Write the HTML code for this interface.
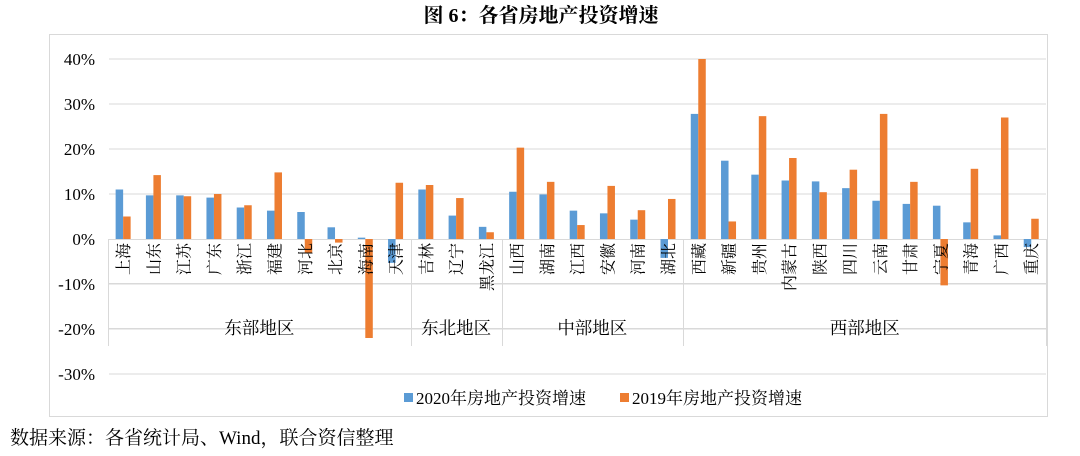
<!DOCTYPE html>
<html><head><meta charset="utf-8"><style>
body{margin:0;background:#fff;width:1080px;height:451px;overflow:hidden;font-family:"Liberation Serif","Noto Serif CJK SC",serif}
</style></head><body>
<svg id="s" width="1080" height="451" xmlns="http://www.w3.org/2000/svg" font-family="Liberation Serif, Noto Serif CJK SC, serif">
<text x="541" y="22" text-anchor="middle" font-size="20" font-weight="bold" font-family="Liberation Serif, Noto Serif CJK SC, serif">图 6：各省房地产投资增速</text>
<rect x="49.5" y="34.5" width="998" height="382" fill="none" stroke="#d9d9d9"/>
<text x="10" y="444" font-size="19">数据来源：各省统计局、Wind，联合资信整理</text>
</svg>
<script>
var s=document.getElementById('s'),NS='http://www.w3.org/2000/svg';
function el(t,a,txt){var e=document.createElementNS(NS,t);for(var k in a)e.setAttribute(k,a[k]);if(txt)e.textContent=txt;s.appendChild(e);return e;}
function Y(v){return 239-v*4.5;}
for(var v=40;v>=-30;v-=10){
 if(v!=0)el('line',{x1:109,x2:1046,y1:Y(v),y2:Y(v),stroke:'#d9d9d9'});
 el('text',{x:95,y:Y(v)+6,'text-anchor':'end','font-size':17},v+'%');
}
var d=[['上海',11,5],['山东',9.7,14.2],['江苏',9.7,9.5],['广东',9.2,10],['浙江',7,7.5],['福建',6.3,14.8],['河北',6,-3],['北京',2.6,-0.8],['海南',0.3,-22],['天津',-5.3,12.5],
['吉林',11,12],['辽宁',5.2,9.1],['黑龙江',2.7,1.5],
['山西',10.5,20.3],['湖南',9.9,12.7],['江西',6.3,3.1],['安徽',5.7,11.8],['河南',4.3,6.4],['湖北',-4.2,8.9],
['西藏',27.8,40],['新疆',17.4,3.9],['贵州',14.3,27.3],['内蒙古',13,18],['陕西',12.8,10.4],['四川',11.3,15.4],['云南',8.5,27.8],['甘肃',7.8,12.7],['宁夏',7.4,-10.3],['青海',3.7,15.6],['广西',0.8,27],['重庆',-1.8,4.5]];
var x0=108,w=30.27;
el('line',{x1:x0,x2:1046,y1:283.5,y2:283.5,stroke:'#d9d9d9'});
el('line',{x1:x0,x2:1046,y1:328.5,y2:328.5,stroke:'#d9d9d9'});
[0,10,13,19,31].forEach(function(i){var x=Math.round(x0+i*w)+0.5;el('line',{x1:x,x2:x,y1:239,y2:346,stroke:'#d9d9d9'});});
el('line',{x1:x0,x2:1046,y1:239.5,y2:239.5,stroke:'#d9d9d9'});
d.forEach(function(r,i){
 var c=x0+i*w+w/2;
 var a=r[1],b=r[2];
 el('rect',{x:c-7.5,y:Math.min(Y(a),239),width:7.5,height:Math.abs(a*4.5),fill:'#5b9bd5'});
 el('rect',{x:c,y:Math.min(Y(b),239),width:7.5,height:Math.abs(b*4.5),fill:'#ed7d31'});
 el('text',{x:0,y:0,'text-anchor':'end','font-size':16,'font-family':'Noto Serif CJK SC, serif',transform:'translate('+(c+6)+',243) rotate(-90)'},r[0]);
});
[['东部地区',0,10],['东北地区',10,13],['中部地区',13,19],['西部地区',19,31]].forEach(function(g){
 el('text',{x:x0+(g[1]+g[2])/2*w,y:334,'text-anchor':'middle','font-size':17.5,'font-family':'Noto Serif CJK SC, serif'},g[0]);
});
el('rect',{x:404,y:393,width:9,height:9,fill:'#5b9bd5'});
el('text',{x:416,y:404,'font-size':17},'2020年房地产投资增速');
el('rect',{x:620,y:393,width:9,height:9,fill:'#ed7d31'});
el('text',{x:632,y:404,'font-size':17},'2019年房地产投资增速');
</script>
</body></html>
